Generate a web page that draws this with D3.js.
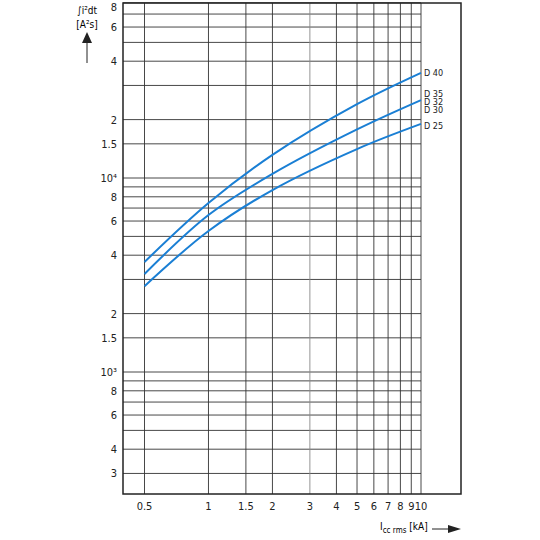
<!DOCTYPE html><html><head><meta charset="utf-8"><script src="https://cdn.jsdelivr.net/npm/d3@7"></script>
<style>body{margin:0;background:#fff}text{font-family:"DejaVu Sans Condensed","DejaVu Sans",sans-serif;font-stretch:condensed}</style></head><body><svg width="540" height="540"></svg><script>
const xs=[0.5,1,2,5,10];
const series=[
 {name:"D 40",vals:[3690,7430,13150,24000,34800],ly:73},
 {name:"D 30",vals:[3200,6440,10500,17800,25200],ly:110},
 {name:"D 25",vals:[2770,5330,8670,14100,19000],ly:126}];
const extraLabels=[{name:"D 35",ly:94},{name:"D 32",ly:102}];
const xTicks=[0.5,1,1.5,2,3,4,5,6,7,8,9,10];
const yGrid=[300,400,500,600,700,800,900,1000,1500,2000,3000,4000,5000,6000,7000,8000,9000,10000,15000,20000,30000,40000,50000,60000,70000,80000];
const yLabels=[[300,"3"],[400,"4"],[600,"6"],[800,"8"],[1000,"10³"],[1500,"1.5"],[2000,"2"],[4000,"4"],[6000,"6"],[8000,"8"],[10000,"10⁴"],[15000,"1.5"],[20000,"2"],[40000,"4"],[60000,"6"],[80000,"8"]];
const svg=d3.select("svg");
const x=d3.scaleLog().domain([0.5,10]).range([144.5,421]);
const y=d3.scaleLog().domain([1000,10000]).range([372,178]);
const L=123,R=461,T=3,B=494;
const g=svg.append("g");
g.selectAll(".h").data(yGrid).join("line").attr("x1",L).attr("x2",x(10)).attr("y1",d=>y(d)).attr("y2",d=>y(d)).attr("stroke","#333").attr("stroke-width",0.9);
g.selectAll(".v").data(xTicks).join("line").attr("x1",d=>x(d)).attr("x2",d=>x(d)).attr("y1",T).attr("y2",B).attr("stroke",d=>d==3?"#888":"#333").attr("stroke-width",0.9);
svg.append("rect").attr("x",L).attr("y",T).attr("width",R-L).attr("height",B-T).attr("fill","none").attr("stroke","#222").attr("stroke-width",1.5);
svg.selectAll(".yl").data(yLabels).join("text").attr("x",117).attr("y",d=>Math.max(y(d[0])+4,11)).attr("text-anchor","end").attr("font-size",11).attr("fill","#222").text(d=>d[1]);
svg.selectAll(".xl").data(xTicks).join("text").attr("x",d=>x(d)).attr("y",510).attr("text-anchor","middle").attr("font-size",11).attr("fill","#222").text(d=>d);
const line=d3.line().x(d=>x(d[0])).y(d=>y(d[1])).curve(d3.curveCatmullRom);
series.forEach(s=>{svg.append("path").attr("d",line(xs.map((v,i)=>[v,s.vals[i]]))).attr("fill","none").attr("stroke","#1a7fd4").attr("stroke-width",2);});
[...series,...extraLabels].forEach(s=>svg.append("text").attr("x",424).attr("y",s.ly+3).attr("font-size",9).attr("fill","#222").text(s.name));
svg.append("text").attr("x",87).attr("y",14).attr("text-anchor","middle").attr("font-size",10).text("∫i²dt");
svg.append("text").attr("x",87).attr("y",28).attr("text-anchor","middle").attr("font-size",10).text("[A²s]");
svg.append("line").attr("x1",87).attr("x2",87).attr("y1",63).attr("y2",42).attr("stroke","#222");
svg.append("path").attr("d","M82,43 L92,43 L87,32 Z").attr("fill","#222");
const t=svg.append("text").attr("x",380).attr("y",530).attr("font-size",10);
t.append("tspan").text("I");t.append("tspan").attr("dy",3).attr("font-size",8).text("cc rms");t.append("tspan").attr("dy",-3).text(" [kA]");
svg.append("line").attr("x1",432).attr("x2",450).attr("y1",529).attr("y2",529).attr("stroke","#222");
svg.append("path").attr("d","M448,525 L461,529 L448,533 Z").attr("fill","#222");
</script></body></html>
